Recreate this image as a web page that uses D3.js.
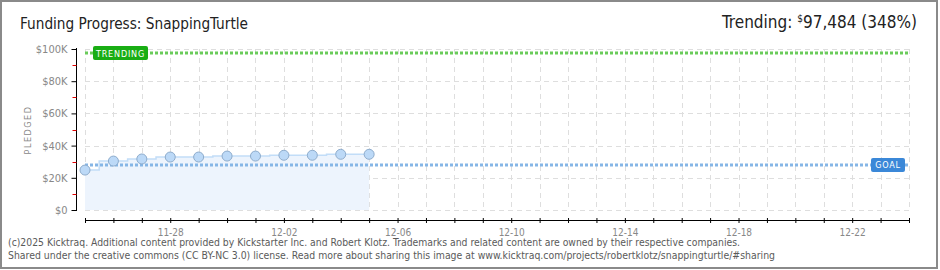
<!DOCTYPE html>
<html><head><meta charset="utf-8">
<script src="https://cdn.jsdelivr.net/npm/d3@7"></script>
<style>
html,body{margin:0;padding:0;background:#fff;}
svg{display:block;}
text{font-family:"DejaVu Sans Condensed","DejaVu Sans",sans-serif;}
</style></head><body>
<svg id="c" width="940" height="270"></svg>
<script>
const dates = ["2024-11-25","2024-11-26","2024-11-27","2024-11-28","2024-11-29","2024-11-30","2024-12-01","2024-12-02","2024-12-03","2024-12-04","2024-12-05"];
const pledged = [24800,30400,31700,32900,32900,33500,33500,34000,34000,34600,34600];
const goal = 28000;
const trending = 97484;
const trendingPct = 348;
const yTicks = [0,20000,40000,60000,80000,100000];
const yMinorTicks = [10000,30000,50000,70000,90000];
const xLabels = ["11-28","12-02","12-06","12-10","12-14","12-18","12-22"];
const xStart = "2024-11-25", xEnd = "2024-12-24";

const parse = d3.timeParse("%Y-%m-%d");
const fmt = d3.timeFormat("%m-%d");
const data = dates.map((d,i)=>({date:parse(d), v:pledged[i]}));

const svg = d3.select("#c");
const x = d3.scaleTime().domain([parse(xStart), parse(xEnd)]).range([85, 909]);
const y = d3.scaleLinear().domain([0,100000]).range([210, 49]);

// border
svg.append("rect").attr("x",1).attr("y",1).attr("width",936).attr("height",267)
  .attr("fill","#fff").attr("stroke","#8a8a8a").attr("stroke-width",2);

// title
svg.append("text").attr("x",20).attr("y",29).attr("font-size",16).attr("fill","#222")
  .attr("font-family","Lato, 'DejaVu Sans', sans-serif")
  .attr("textLength",228).attr("lengthAdjust","spacingAndGlyphs")
  .text("Funding Progress: SnappingTurtle");
const tr = svg.append("text").attr("x",917).attr("y",28).attr("text-anchor","end")
  .attr("font-family","Lato, 'DejaVu Sans', sans-serif")
  .attr("font-size",17).attr("fill","#222");
tr.append("tspan").text("Trending: ");
tr.append("tspan").attr("font-size",10).attr("dy",-6).text("$");
tr.append("tspan").attr("dy",6).text(d3.format(",")(trending) + " (" + trendingPct + "%)");

// grid
const days = d3.timeDay.range(parse(xStart), d3.timeDay.offset(parse(xEnd),1));
const grid = svg.append("g").attr("stroke","#dedede").attr("stroke-dasharray","5,4").attr("stroke-width",1);
grid.selectAll("line.v").data(days).join("line")
  .attr("x1",d=>Math.round(x(d))+0.5).attr("x2",d=>Math.round(x(d))+0.5)
  .attr("y1",y(100000)).attr("y2",y(0));
grid.selectAll("line.h").data(yTicks).join("line")
  .attr("x1",85).attr("x2",909)
  .attr("y1",d=>Math.round(y(d))+0.5).attr("y2",d=>Math.round(y(d))+0.5);

// area + line
const area = d3.area().curve(d3.curveStep).x(d=>x(d.date)).y0(y(0)).y1(d=>y(d.v));
svg.append("path").datum(data).attr("d",area).attr("fill","#edf4fd");
const line = d3.line().curve(d3.curveStep).x(d=>x(d.date)).y(d=>y(d.v));
svg.append("path").datum(data).attr("d",line).attr("fill","none").attr("stroke","#c2ddf8").attr("stroke-width",1.5);

// goal line
svg.append("line").attr("x1",85).attr("x2",909).attr("y1",y(goal)).attr("y2",y(goal))
  .attr("stroke","#86b6e6").attr("stroke-width",3).attr("stroke-dasharray","3,2");
// trending line
svg.append("line").attr("x1",85).attr("x2",909).attr("y1",y(trending)).attr("y2",y(trending))
  .attr("stroke","#6acb5a").attr("stroke-width",3).attr("stroke-dasharray","3,2");

// points
svg.append("g").selectAll("circle").data(data).join("circle")
  .attr("cx",d=>x(d.date)).attr("cy",d=>y(d.v)).attr("r",5)
  .attr("fill","#bcd9f7").attr("stroke","#8eaccc").attr("stroke-width",1);

// labels
function badge(x0, yc, w, txt, col){
  const g = svg.append("g");
  g.append("rect").attr("x",x0).attr("y",yc-7).attr("width",w).attr("height",14).attr("rx",2).attr("fill",col);
  g.append("text").attr("x",x0+w/2).attr("y",yc+3.5).attr("text-anchor","middle")
    .attr("font-size",9).attr("fill","#fff").attr("letter-spacing",0.8).text(txt);
}
badge(93, y(trending), 55, "TRENDING", "#19ad14");
badge(871, y(goal), 34, "GOAL", "#3b88d8");

// y axis
const yAxis = d3.axisLeft(y).tickValues(yTicks).tickSize(5).tickPadding(4)
  .tickFormat(d=> d===0 ? "$0" : "$" + (d/1000) + "K");
const ya = svg.append("g").attr("transform","translate(76.5,0)").call(yAxis);
ya.select(".domain").attr("stroke","#000").attr("d","M0,"+(y(100000)-1)+"V"+(y(0)+1));
ya.selectAll(".tick line").attr("stroke","#000");
ya.selectAll(".tick text").attr("fill","#888").attr("font-size",11);
ya.selectAll("line.minor").data(yMinorTicks).join("line").attr("class","minor")
  .attr("x1",-4).attr("x2",0).attr("y1",d=>Math.round(y(d))+0.5).attr("y2",d=>Math.round(y(d))+0.5)
  .attr("stroke","#e00000");
svg.append("text").attr("transform","translate(31,130) rotate(-90)").attr("text-anchor","middle")
  .attr("font-size",9).attr("fill","#888").attr("letter-spacing",1.5).text("PLEDGED");

// x axis
const xAxis = d3.axisBottom(x).tickValues(days).tickSize(5).tickPadding(6)
  .tickFormat(d=> xLabels.includes(fmt(d)) ? fmt(d) : "");
const xa = svg.append("g").attr("transform","translate(0,218)").call(xAxis);
xa.select(".domain").attr("stroke","#000").attr("d","M85,2.5H910");
xa.selectAll(".tick line").attr("stroke","#000").attr("y1",0).attr("y2",5);
xa.selectAll(".tick text").attr("fill","#888").attr("font-size",10);

// footer
svg.append("text").attr("x",8).attr("y",246).attr("font-size",10).attr("fill","#5a5a5a")
  .attr("textLength",732).attr("lengthAdjust","spacingAndGlyphs")
  .text("(c)2025 Kicktraq. Additional content provided by Kickstarter Inc. and Robert Klotz. Trademarks and related content are owned by their respective companies.");
svg.append("text").attr("x",8).attr("y",259).attr("font-size",10).attr("fill","#5a5a5a")
  .attr("textLength",767).attr("lengthAdjust","spacingAndGlyphs")
  .text("Shared under the creative commons (CC BY-NC 3.0) license. Read more about sharing this image at www.kicktraq.com/projects/robertklotz/snappingturtle/#sharing");
</script>
</body></html>
